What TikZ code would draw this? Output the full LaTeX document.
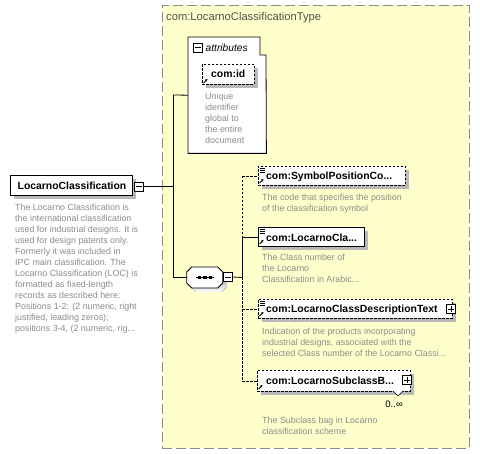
\documentclass[tikz,border=0pt]{standalone}
\usepackage{fontspec}
\setmainfont{Liberation Sans}
\usetikzlibrary{shadows,calc,arrows.meta}
\definecolor{typebg}{HTML}{FFFFCC}
\definecolor{typeborder}{HTML}{8C8C8C}
\definecolor{desccol}{HTML}{8C8C8C}
\definecolor{shade}{HTML}{B9B9B9}
\definecolor{titlecol}{HTML}{505050}
\begin{document}
\begin{tikzpicture}[x=1pt,y=-1pt,
  elbox/.style={draw=black, fill=white, line width=0.8pt, anchor=north west, inner sep=0pt,
    drop shadow={shadow xshift=4pt, shadow yshift=-4pt, fill=shade, opacity=1}},
  optbox/.style={elbox, dash pattern=on 2.5pt off 1.5pt},
  elname/.style={font=\fontsize{10.4}{12}\selectfont\bfseries, anchor=west, inner sep=0pt},
  desctext/.style={font=\fontsize{8.9}{11}\selectfont, text=desccol, anchor=north west, align=left, inner sep=0pt},
  pmbox/.style={draw=black, fill=white, line width=0.6pt, minimum size=9pt, inner sep=0pt},
  conn/.style={line width=0.8pt, black},
  optconn/.style={conn, dash pattern=on 2.5pt off 1.5pt},
]
\useasboundingbox (0,0) rectangle (480,454);
\fill[white] (0,0) rectangle (480,454);

% complex type container
\node[draw=typeborder, fill=typebg, line width=0.9pt, dash pattern=on 10pt off 4pt,
      anchor=north west, minimum width=307pt, minimum height=443pt, inner sep=0pt] (type) at (162,5) {};
\node[font=\fontsize{11.2}{13}\selectfont, text=titlecol, anchor=west, inner sep=0pt] (typetitle) at (166,18) {com:LocarnoClassificationType};

% attributes group
\node[anchor=north west, minimum width=78pt, minimum height=116pt, inner sep=0pt] (attr) at (188,37) {};
\draw[line width=0.8pt, fill=white] (attr.north west) -- ++(72,0) -- ++(0,18) -- ++(6,0) -- (attr.south east) -- (attr.south west) -- cycle;
\node[pmbox] (attrminus) at (198,47.5) {};
\draw[line width=0.6pt] ($(attrminus.center)+(-3,0)$) -- ($(attrminus.center)+(3,0)$);
\node[font=\fontsize{10.2}{12}\selectfont\itshape, anchor=west, inner sep=0pt] (attrlabel) at (205.5,47.5) {attributes};

\node[optbox, minimum width=52pt, minimum height=20pt] (idbox) at (202,64) {};
\node[elname] (idname) at (211,74) {com:id};
\draw[line width=0.9pt, -{Stealth[length=2.5pt,width=2.5pt]}] (203.5,83) -- (207.5,79);
\node[desctext] (iddesc) at (205,92.5) {Unique\\identifier\\global to\\the entire\\document};

% root element
\node[elbox, minimum width=122pt, minimum height=20pt] (root) at (10,175) {};
\node[elname, anchor=center] (rootname) at (72,185.5) {LocarnoClassification};
\node[pmbox] (rootminus) at (138.5,186.5) {};
\draw[line width=0.6pt] ($(rootminus.center)+(-3,0)$) -- ($(rootminus.center)+(3,0)$);
\node[desctext] (rootdesc) at (15,203.5) {The Locarno Classification is\\the international classification\\used for industrial designs. It is\\used for design patents only.\\Formerly it was included in\\IPC main classification. The\\Locarno Classification (LOC) is\\formatted as fixed-length\\records as described here:\\Positions 1-2: (2 numeric, right\\justified, leading zeros);\\positions 3-4, (2 numeric, rig...};

% trunk
\coordinate (trunktop) at (173,95);
\coordinate (trunkmid) at (173,186.5);
\coordinate (trunkbot) at (173,277.5);
\draw[conn] (rootminus.east) -- (trunkmid);
\draw[conn] (trunktop) -- (trunkbot);
\draw[conn] (trunktop) -- (attr.west);

% sequence
\node[minimum width=36pt, minimum height=21pt, inner sep=0pt] (seq) at (205,277.5) {};
\fill[shade] ($(seq.west)+(4,4)$) -- ++(0,-5.5) -- ++(5,-5) -- ++(26,0) -- ++(5,5) -- ++(0,11) -- ++(-5,5) -- ++(-26,0) -- ++(-5,-5) -- cycle;
\draw[line width=0.8pt, fill=white] (seq.west) ++(0,-5.5) -- ++(5,-5) -- ++(26,0) -- ++(5,5) -- ++(0,11) -- ++(-5,5) -- ++(-26,0) -- ++(-5,-5) -- cycle;
\draw[line width=0.8pt] (196,277.5) -- (214,277.5);
\foreach \sx in {199.5,205,210.5} \fill (\sx-1.6,276) rectangle (\sx+1.6,279);
\node[pmbox] (seqminus) at (228,277) {};
\draw[line width=0.6pt] ($(seqminus.center)+(-3,0)$) -- ($(seqminus.center)+(3,0)$);
\draw[conn] (trunkbot) -- (seq.west);

% bus
\coordinate (busseq) at (242,277.5);
\coordinate (bus1) at (242,176);
\coordinate (bus2) at (242,237);
\coordinate (bus3) at (242,309);
\coordinate (bus4) at (242,381);
\draw[conn] (seqminus.east) -- (busseq);
\draw[optconn] (bus1) -- (bus2);
\draw[conn] (bus2) -- (busseq);
\draw[optconn] (busseq) -- (bus4);

% child 1
\node[optbox, minimum width=147pt, minimum height=19pt] (c1) at (258,166) {};
\node[elname] (c1name) at (266,176.5) {com:SymbolPositionCo...};
\draw[optconn] (bus1) -- (c1.west |- bus1);
\node[desctext] (c1desc) at (262,193.5) {The code that specifies the position\\of the classification symbol};

% child 2
\node[elbox, minimum width=106pt, minimum height=19pt] (c2) at (258,227) {};
\node[elname] (c2name) at (266,237.5) {com:LocarnoCla...};
\draw[conn] (bus2) -- (c2.west |- bus2);
\node[desctext] (c2desc) at (262,253.5) {The Class number of\\the Locarno\\Classification in Arabic...};

% child 3
\node[optbox, minimum width=194pt, minimum height=19pt] (c3) at (258,299) {};
\node[elname] (c3name) at (266,309.5) {com:LocarnoClassDescriptionText};
\node[pmbox] (c3plus) at (451,309) {};
\draw[line width=0.6pt] ($(c3plus.center)+(-3,0)$) -- ($(c3plus.center)+(3,0)$) ($(c3plus.center)+(0,-3)$) -- ($(c3plus.center)+(0,3)$);
\draw[optconn] (bus3) -- (c3.west |- bus3);
\node[desctext] (c3desc) at (262,327.5) {Indication of the products incorporating\\industrial designs, associated with the\\selected Class number of the Locarno Classi...};

% child 4
\node[optbox, minimum width=153pt, minimum height=21pt] (c4) at (257,370) {};
\node[elname] (c4name) at (266,381) {com:LocarnoSubclassB...};
\node[pmbox] (c4plus) at (407,380) {};
\draw[line width=0.6pt] ($(c4plus.center)+(-3,0)$) -- ($(c4plus.center)+(3,0)$) ($(c4plus.center)+(0,-3)$) -- ($(c4plus.center)+(0,3)$);
\draw[optconn] (bus4) -- (c4.west |- bus4);
\draw[line width=0.6pt, fill=white] (393,391) -- (398,396) -- (403,391);
\node[font=\fontsize{9.5}{11}\selectfont, anchor=east, inner sep=0pt] (c4occ) at (403,404) {0..∞};
\node[desctext] (c4desc) at (262,416.5) {The Subclass bag in Locarno\\classification scheme};

% icons: simple-content marks and reference arrows
\foreach \bx/\by in {258/166, 258/227, 258/299} {
  \draw[line width=0.6pt] (\bx+1.5,\by+2) -- ++(5,0) (\bx+1.5,\by+4) -- ++(5,0) (\bx+1.5,\by+6) -- ++(5,0);
}
\foreach \bx/\by in {258/185, 258/246, 258/318, 257/391} {
  \draw[line width=0.9pt, -{Stealth[length=2.5pt,width=2.5pt]}] (\bx+1.5,\by-2) -- (\bx+5.5,\by-6);
}
\end{tikzpicture}
\end{document}
